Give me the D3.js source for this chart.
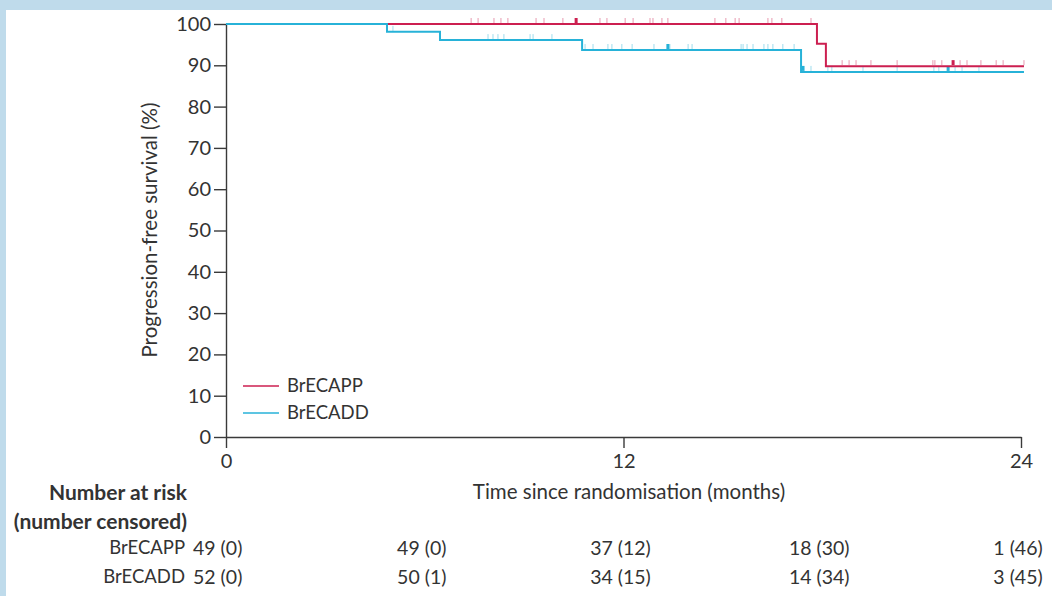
<!DOCTYPE html>
<html lang="en">
<head>
  <meta charset="utf-8">
  <script src="https://d3js.org/d3.v7.min.js"></script>
  <title>Progression-free survival</title>
  <style>
    body { margin: 0; background: #bfdbeb; }
    text { font-family: Lato, "Open Sans", sans-serif; fill: #333; }
  </style>
</head>
<body>
<script>
// ---- data (months, % progression-free) ----
const seriesNames = ["BrECAPP", "BrECADD"];
const seriesColors = ["#cc1f50", "#27b2d8"];

// step points: [time, survival]
const stepsPP = [[0, 100], [17.84, 95.2], [18.11, 89.8], [24.09, 89.8]];
const stepsDD = [[0, 100], [4.86, 98.1], [6.46, 96.1], [10.75, 93.7], [17.36, 88.4], [24.09, 88.4]];

// censoring times (repeated value = several patients at one time)
const censorPP = [7.40, 7.61, 8.09, 8.30, 8.51, 9.36, 9.60, 10.17, 10.57, 10.57, 11.29, 11.50,
  12.05, 12.29, 12.80, 12.89, 13.16, 13.34, 14.76, 15.09, 15.37, 15.49, 16.36, 16.48, 16.78,
  17.66, 18.60, 18.81, 19.02, 19.47, 20.26, 21.34, 21.40, 21.61, 21.95, 21.95, 22.16, 22.37,
  22.79, 23.25, 23.46, 24.09];
const censorDD = [5.04, 7.91, 8.06, 8.21, 8.39, 9.18, 9.27, 9.84, 10.84, 11.08, 11.53, 11.65,
  11.95, 12.26, 12.92, 13.34, 13.34, 13.40, 13.95, 14.07, 15.55, 15.61, 15.73, 15.91, 16.24,
  16.36, 16.51, 16.81, 17.15, 17.42, 17.42, 17.66, 18.17, 18.29, 19.23, 20.26, 21.37, 21.52,
  21.80, 21.80, 22.01, 22.22, 22.73];

const xTicks = [0, 12, 24];
const yTicks = [0, 10, 20, 30, 40, 50, 60, 70, 80, 90, 100];
const riskTimes = [0, 6, 12, 18, 24];
const riskPP = ["49 (0)", "49 (0)", "37 (12)", "18 (30)", "1 (46)"];
const riskDD = ["52 (0)", "50 (1)", "34 (15)", "14 (34)", "3 (45)"];

// ---- layout ----
const W = 1052, H = 596;
const svg = d3.select("body").append("svg")
  .attr("width", W).attr("height", H)
  .style("display", "block");

// white panel inside the blue frame
svg.append("rect").attr("x", 6).attr("y", 10)
  .attr("width", W - 6).attr("height", H - 10).attr("fill", "#fff");

const x = d3.scaleLinear().domain([0, 24]).range([226, 1021]);
const y = d3.scaleLinear().domain([0, 100]).range([437, 24]);

// axes
const yAxis = svg.append("g")
  .attr("transform", "translate(" + x(0) + ",0)")
  .call(d3.axisLeft(y).tickValues(yTicks).tickSize(12).tickSizeOuter(0).tickPadding(3));
const xAxis = svg.append("g")
  .attr("transform", "translate(0," + y(0) + ")")
  .call(d3.axisBottom(x).tickValues(xTicks).tickSize(11).tickSizeOuter(0).tickPadding(6));

[yAxis, xAxis].forEach(function(g) {
  g.selectAll("path, line").attr("stroke", "#3a3a3a").attr("stroke-width", 1.4);
  g.selectAll("text").style("font-size", "20px").attr("fill", "#333");
});

// axis titles
svg.append("text")
  .attr("transform", "translate(157," + 230 + ") rotate(-90)")
  .attr("text-anchor", "middle")
  .style("font-size", "20.5px")
  .text("Progression-free survival (%)");

svg.append("text")
  .attr("x", 629).attr("y", 499)
  .attr("text-anchor", "middle")
  .style("font-size", "20.5px")
  .text("Time since randomisation (months)");

// survival curves
const stepLine = d3.line()
  .x(function(d) { return x(d[0]); })
  .y(function(d) { return y(d[1]); })
  .curve(d3.curveStepAfter);

function levelAt(steps, t) {
  let v = steps[0][1];
  steps.forEach(function(s) { if (s[0] <= t) v = s[1]; });
  return v;
}

function drawCensors(steps, times, color) {
  const counts = d3.rollups(times, function(v) { return v.length; }, function(d) { return d; });
  svg.append("g").selectAll("line")
    .data(counts)
    .join("line")
      .attr("x1", function(d) { return x(d[0]); })
      .attr("x2", function(d) { return x(d[0]); })
      .attr("y1", function(d) { return y(levelAt(steps, d[0])) - 1; })
      .attr("y2", function(d) { return y(levelAt(steps, d[0])) - 6; })
      .attr("stroke", color)
      .attr("stroke-width", function(d) { return d[1] > 1 ? 3 : 1; })
      .attr("stroke-opacity", function(d) { return d[1] > 1 ? 1 : 0.45; });
}

drawCensors(stepsPP, censorPP, seriesColors[0]);
drawCensors(stepsDD, censorDD, seriesColors[1]);

svg.append("path").datum(stepsPP)
  .attr("d", stepLine).attr("fill", "none")
  .attr("stroke", seriesColors[0]).attr("stroke-width", 2);
svg.append("path").datum(stepsDD)
  .attr("d", stepLine).attr("fill", "none")
  .attr("stroke", seriesColors[1]).attr("stroke-width", 2);

// legend
const legend = svg.append("g");
seriesNames.forEach(function(name, i) {
  const ly = 386 + i * 27;
  legend.append("line")
    .attr("x1", 243).attr("x2", 279).attr("y1", ly).attr("y2", ly)
    .attr("stroke", seriesColors[i]).attr("stroke-width", 1.5);
  legend.append("text")
    .attr("x", 287).attr("y", ly).attr("dy", "0.35em")
    .style("font-size", "18.5px")
    .text(name);
});

// number at risk table
svg.append("text")
  .attr("x", 187).attr("y", 493).attr("dy", "0.35em")
  .attr("text-anchor", "end")
  .style("font-size", "21px").style("font-weight", "bold")
  .text("Number at risk");
svg.append("text")
  .attr("x", 187).attr("y", 522).attr("dy", "0.35em")
  .attr("text-anchor", "end")
  .style("font-size", "21px").style("font-weight", "bold")
  .text("(number censored)");

[riskPP, riskDD].forEach(function(row, i) {
  const ry = 548 + i * 29;
  svg.append("text")
    .attr("x", 185).attr("y", ry).attr("dy", "0.35em")
    .attr("text-anchor", "end")
    .style("font-size", "18.5px")
    .text(seriesNames[i]);
  svg.append("g").selectAll("text")
    .data(row)
    .join("text")
      .attr("x", function(d, j) { return j === 0 ? 193 : x(riskTimes[j]) - 3; })
      .attr("y", ry).attr("dy", "0.35em")
      .attr("text-anchor", function(d, j) { return j === 0 ? "start" : "middle"; })
      .style("font-size", "19.5px")
      .text(function(d) { return d; });
});
</script>
</body>
</html>
